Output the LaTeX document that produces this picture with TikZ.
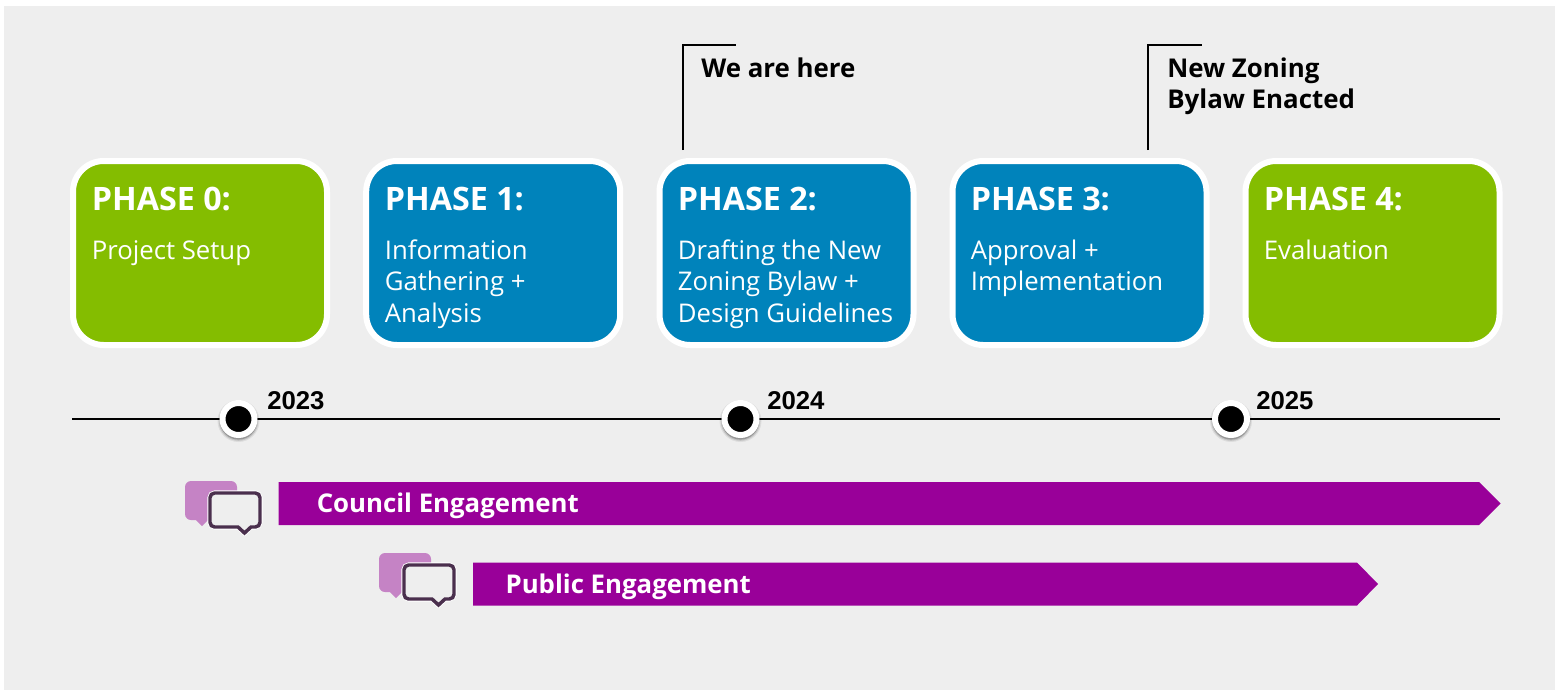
\documentclass[tikz,border=0pt]{standalone}
\usepackage{fontspec}
\setmainfont{Open Sans}
\newfontfamily\arialfont{Liberation Sans}
\definecolor{bgcol}{HTML}{EEEEEE}
\definecolor{greencol}{HTML}{84BD00}
\definecolor{bluecol}{HTML}{0083BB}
\definecolor{purplecol}{HTML}{990099}
\definecolor{lightbub}{HTML}{C583C5}
\definecolor{darkbub}{HTML}{4A2F4D}
\newcommand{\fs}[1]{\fontsize{#1}{#1}\selectfont}
\newcommand{\darkbubble}{[rounded corners=3.5pt] (25,29) -- (25,12) -- (75,12) -- (75,46) [sharp corners] -- (66,46) -- (59.5,52) -- (53,46) [rounded corners=3.5pt] -- (25,46) -- cycle}
\tikzset{
  x=0.75pt,y=-0.75pt,
  phasebox/.style={draw=white,line width=4.5pt,rounded corners=23pt,minimum width=190.5pt,minimum height=138pt,inner sep=0pt,anchor=north west},
  phasehead/.style={text=white,anchor=base west,inner sep=0pt,font=\fs{24.2}\bfseries},
  phasebody/.style={text=white,anchor=base west,inner sep=0pt,font=\fs{19.3}},
  noteline/.style={draw=black,line width=1.5pt},
  notelabel/.style={text=black,anchor=base west,inner sep=0pt,font=\fs{19.4}\bfseries,align=left},
  yearlabel/.style={text=black,anchor=base west,inner sep=0pt,font=\arialfont\fs{19.3}\bfseries},
  yeardot/.style={circle,fill=black,draw=white,line width=4.5pt,minimum size=24pt,inner sep=0pt},
  barlabel/.style={text=white,anchor=base west,inner sep=0pt,font=\fs{19.35}\bfseries},
  bubbles/.pic={
    \fill[lightbub] [rounded corners=4.5pt] (0,20) -- (0,0) -- (52,0) -- (52,39) [sharp corners] -- (23,39) -- (17,45) -- (11,39) [rounded corners=4.5pt] -- (0,39) -- cycle;
    \draw[white,line width=3.8pt,line join=miter,fill=bgcol] \darkbubble;
    \draw[darkbub,line width=2.6pt,line join=miter,fill=bgcol] \darkbubble;
  }
}
\begin{document}
\begin{tikzpicture}
\useasboundingbox (0,0) rectangle (1557,690);
\fill[bgcol] (4,6) rectangle (1555,690);

% phase boxes
\node[phasebox,fill=greencol] (p0) at (70,158) {};
\node[phasebox,fill=bluecol] (p1) at (363.2,158) {};
\node[phasebox,fill=bluecol] (p2) at (656.5,158) {};
\node[phasebox,fill=bluecol] (p3) at (949.5,158) {};
\node[phasebox,fill=greencol] (p4) at (1242.5,158) {};

\node[phasehead] (h0) at (91.6,210) {PHASE 0:};
\node[phasehead] (h1) at (384.6,210) {PHASE 1:};
\node[phasehead] (h2) at (677.6,210) {PHASE 2:};
\node[phasehead] (h3) at (970.6,210) {PHASE 3:};
\node[phasehead] (h4) at (1263.6,210) {PHASE 4:};

\node[phasebody] (b0) at (91.6,259) {Project Setup};
\node[phasebody] (b1a) at (384.6,259) {Information};
\node[phasebody] (b1b) at (384.6,290) {Gathering +};
\node[phasebody] (b1c) at (384.6,322) {Analysis};
\node[phasebody] (b2a) at (677.6,259) {Drafting the New};
\node[phasebody] (b2b) at (677.6,290) {Zoning Bylaw +};
\node[phasebody] (b2c) at (677.6,322) {Design Guidelines};
\node[phasebody] (b3a) at (970.6,259) {Approval +};
\node[phasebody] (b3b) at (970.6,290) {Implementation};
\node[phasebody] (b4) at (1263.6,259) {Evaluation};

% callouts
\coordinate (c1a) at (682.5,150);
\coordinate (c1b) at (682.5,45);
\coordinate (c1c) at (736,45);
\draw[noteline] (c1a) -- (c1b) -- (c1c);
\node[notelabel] (n1) at (701,77) {We are here};
\coordinate (c2a) at (1147.5,150);
\coordinate (c2b) at (1147.5,45);
\coordinate (c2c) at (1202,45);
\draw[noteline] (c2a) -- (c2b) -- (c2c);
\node[notelabel] (n2a) at (1167,77) {New Zoning};
\node[notelabel] (n2b) at (1167,108) {Bylaw Enacted};

% timeline
\coordinate (tl) at (72,419);
\coordinate (tr) at (1500,419);
\draw[black,line width=1.4pt] (tl) -- (tr);
\foreach \n/\xx in {d1/238.5,d2/740.5,d3/1231} {
  \foreach \o/\r in {0.22/18.6,0.12/19.8,0.07/21} {
    \fill[black,opacity=\o] (\xx,421) circle[radius=\r];
  }
  \node[yeardot] (\n) at (\xx,419) {};
}
\node[yearlabel] (y1) at (267,409) {2023};
\node[yearlabel] (y2) at (767,409) {2024};
\node[yearlabel] (y3) at (1256,409) {2025};

% engagement bars
\fill[purplecol] (278.5,482) -- (1479,482) -- (1500.5,503.5) -- (1479,525) -- (278.5,525) -- cycle;
\node[barlabel] (e1) at (316.5,512) {Council Engagement};
\fill[purplecol] (473,562.5) -- (1357,562.5) -- (1378,584) -- (1357,605.5) -- (473,605.5) -- cycle;
\node[barlabel] (e2) at (505.3,593) {Public Engagement};

\pic at (185,481) {bubbles};
\pic at (379,553) {bubbles};
\end{tikzpicture}
\end{document}
